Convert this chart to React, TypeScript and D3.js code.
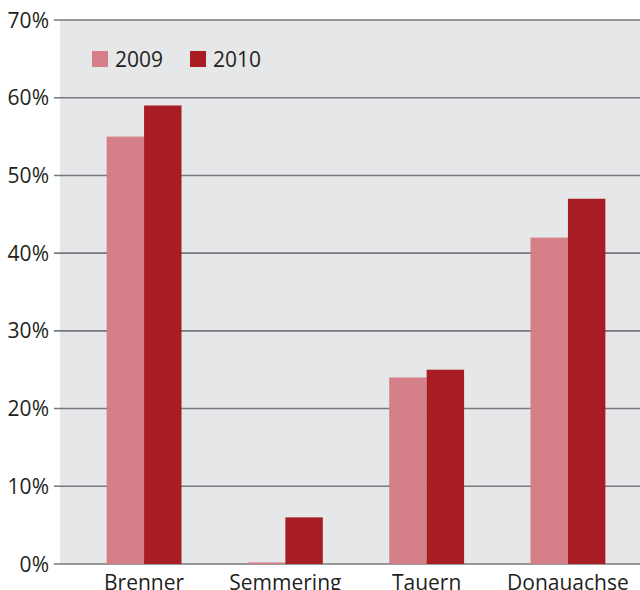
import React from "react";
import * as d3 from "d3";

const categories = ["Brenner", "Semmering", "Tauern", "Donauachse"];
const seriesNames = ["2009", "2010"];
const values2009 = [55, 0.2, 24, 42];
const values2010 = [59, 6, 25, 47];
const yTicks = [0, 10, 20, 30, 40, 50, 60, 70];
const colors = ["#d57f88", "#a81c24"];

const W = 640;
const H = 590;
const FONT = "'Open Sans', sans-serif";
const TEXT = "#231f20";

export default function App() {
  const plotLeft = 60;
  const plotRight = 640;
  const y = d3.scaleLinear().domain([0, 70]).range([564, 20]);
  const x = d3
    .scaleBand<string>()
    .domain(categories)
    .range([plotLeft, 652])
    .paddingInner(0.47)
    .paddingOuter(0.33);
  const xs = d3.scaleBand<string>().domain(seriesNames).range([0, x.bandwidth()]);
  const data = [values2009, values2010];

  return (
    <svg
      width={W}
      height={H}
      style={{ position: "absolute", left: 0, top: 0, display: "block" }}
      fontFamily={FONT}
    >
      <rect x={0} y={0} width={W} height={H} fill="#fff" />
      <rect x={plotLeft} y={y(70)} width={plotRight - plotLeft} height={y(0) - y(70)} fill="#e6e7e8" />
      {yTicks.map((t) => (
        <g key={t}>
          <line x1={54} x2={plotRight} y1={y(t)} y2={y(t)} stroke="#77787b" strokeWidth={1.6} />
          <text x={49} y={y(t)} dy="0.36em" textAnchor="end" fontSize={21} fill={TEXT}>
            {t}%
          </text>
        </g>
      ))}
      {categories.map((c, i) => (
        <g key={c}>
          {seriesNames.map((s, j) => {
            const v = data[j][i];
            return (
              <rect
                key={s}
                x={(x(c) as number) + (xs(s) as number)}
                y={y(v)}
                width={xs.bandwidth()}
                height={y(0) - y(v)}
                fill={colors[j]}
              />
            );
          })}
          <text
            x={(x(c) as number) + x.bandwidth() / 2}
            y={590}
            textAnchor="middle"
            fontSize={21}
            fill={TEXT}
          >
            {c}
          </text>
        </g>
      ))}
      {seriesNames.map((s, j) => (
        <g key={s} transform={`translate(${92 + j * 98},51)`}>
          <rect x={0} y={0} width={16} height={16} fill={colors[j]} />
          <text x={23} y={15.7} fontSize={21} fill={TEXT}>
            {s}
          </text>
        </g>
      ))}
    </svg>
  );
}
